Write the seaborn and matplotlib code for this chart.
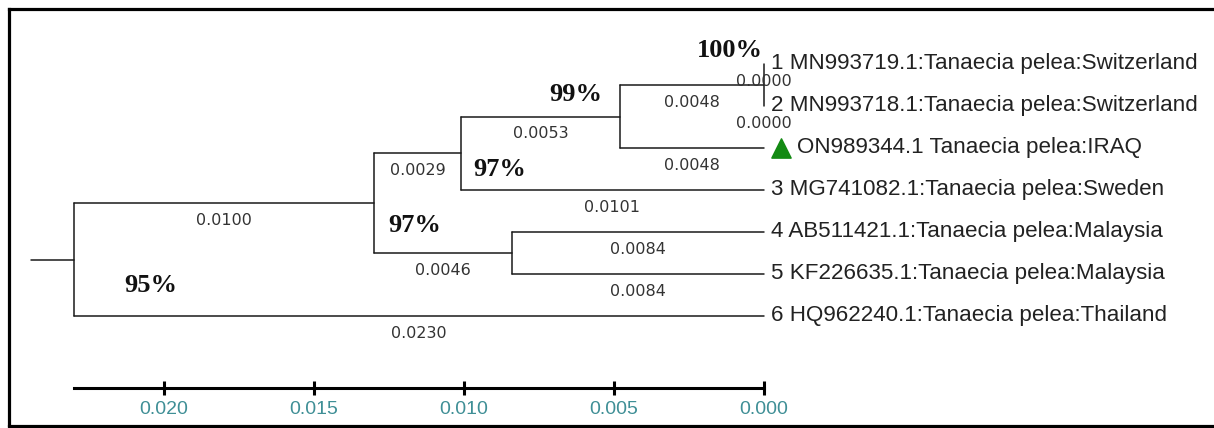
import numpy as np
import pandas as pd
import matplotlib
matplotlib.use("Agg")
import matplotlib.pyplot as plt
import seaborn as sns


# ── 1. Tree data ─────────────────────────────────────────────────────────────

branch_parent = ["R", "A", "B", "D", "E", "E", "D", "B", "A", "C", "C", "R"]
branch_child = ["A", "B", "D", "E", "L1", "L2", "LIQ", "L3", "C", "L4", "L5", "L6"]
branch_length = [0.0100, 0.0029, 0.0053, 0.0048, 0.0000, 0.0000,
                 0.0048, 0.0101, 0.0046, 0.0084, 0.0084, 0.0230]

leaf_ids = ["L1", "L2", "LIQ", "L3", "L4", "L5", "L6"]
leaf_labels = [
    "1 MN993719.1:Tanaecia pelea:Switzerland",
    "2 MN993718.1:Tanaecia pelea:Switzerland",
    "ON989344.1 Tanaecia pelea:IRAQ",
    "3 MG741082.1:Tanaecia pelea:Sweden",
    "4 AB511421.1:Tanaecia pelea:Malaysia",
    "5 KF226635.1:Tanaecia pelea:Malaysia",
    "6 HQ962240.1:Tanaecia pelea:Thailand",
]
marked_leaf = "LIQ"

bootstrap_nodes = ["E", "D", "B", "A", "R"]
bootstrap_values = [100, 99, 97, 97, 95]

scale_ticks = [0.020, 0.015, 0.010, 0.005, 0.000]

# label offsets in points (layout only)
boot_offsets = [(-1, 25), (-13, 16), (9, -12), (10, -16), (36, -19)]
boot_align = ["right", "right", "left", "left", "left"]


# ── 2. Layout of the tree ────────────────────────────────────────────────────

depth = {"R": 0.0}
children = {}
for p, c, L in zip(branch_parent, branch_child, branch_length):
    depth[c] = depth[p] + L
    children.setdefault(p, []).append(c)
total = max(depth.values())
xpos = {n: total - d for n, d in depth.items()}

ypos = {leaf: i for i, leaf in enumerate(leaf_ids)}
for p in reversed(list(dict.fromkeys(branch_parent))):
    ys = [ypos[c] for c in children[p]]
    ypos[p] = (min(ys) + max(ys)) / 2

rows = []
seg = 0
for p, c in zip(branch_parent, branch_child):
    rows += [(xpos[p], ypos[c], seg), (xpos[c], ypos[c], seg)]
    seg += 1
for p, kids in children.items():
    ys = [ypos[c] for c in kids]
    rows += [(xpos[p], min(ys), seg), (xpos[p], max(ys), seg)]
    seg += 1
root_stub = 0.00145
rows += [(xpos["R"] + root_stub, ypos["R"], seg), (xpos["R"], ypos["R"], seg)]
segs = pd.DataFrame(rows, columns=["x", "y", "seg"])


# ── 3. Plot ──────────────────────────────────────────────────────────────────

sns.set_theme(style="white")
plt.rcParams["font.family"] = ["DejaVu Sans"]

W, H = 1214, 428
fig = plt.figure(figsize=(W / 100, H / 100), dpi=100)
left_px, top_px, bot_px = 8.5, 9.0, 425.5
ax = fig.add_axes([left_px / W, (H - bot_px) / H, (W - left_px) / W, (bot_px - top_px) / H])

px_per_unit = 30000.0
tip_px = 764.0
ax.set_xlim((tip_px - left_px) / px_per_unit, (tip_px - W) / px_per_unit)
ax.set_ylim((bot_px - 64) / 42, (top_px - 64) / 42)

sns.lineplot(data=segs, x="x", y="y", units="seg", estimator=None, sort=False,
             color="#1a1a1a", linewidth=1.1, ax=ax, legend=False)

# branch lengths
for p, c, L in zip(branch_parent, branch_child, branch_length):
    xm = (xpos[p] + xpos[c]) / 2
    ax.annotate(f"{L:.4f}", (xm, ypos[c]), xytext=(0, -12.5), textcoords="offset points",
                ha="center", va="center", fontsize=11.5, color="#333333",
                family=["DejaVu Sans"])

# leaf labels
for leaf, lab in zip(leaf_ids, leaf_labels):
    dx = 5
    if leaf == marked_leaf:
        dx = 24
    ax.annotate(lab, (xpos[leaf], ypos[leaf]), xytext=(dx, 0), textcoords="offset points",
                ha="left", va="center", fontsize=16.1, color="#222222",
                family=["Liberation Sans", "DejaVu Sans"])

mk = pd.DataFrame({"x": [xpos[marked_leaf] - 0.00057], "y": [ypos[marked_leaf]]})
sns.scatterplot(data=mk, x="x", y="y", marker="^", s=190, color="#138a13",
                edgecolor="#138a13", ax=ax, legend=False)

# bootstrap values
for n, v, off, ha in zip(bootstrap_nodes, bootstrap_values, boot_offsets, boot_align):
    ax.annotate(f"{v}%", (xpos[n], ypos[n]), xytext=off, textcoords="offset points",
                ha=ha, va="center", fontsize=19, fontweight="bold", color="#111111",
                family=["Liberation Serif", "DejaVu Serif"])

ax.set_xticks([])
ax.set_yticks([])
ax.set_xlabel("")
ax.set_ylabel("")
for side in ["top", "left", "bottom"]:
    ax.spines[side].set_visible(True)
    ax.spines[side].set_color("black")
    ax.spines[side].set_linewidth(2.3)
ax.spines["right"].set_visible(False)

# scale axis
scale_y = 388.0
ax2 = fig.add_axes([left_px / W, (H - scale_y) / H, (W - left_px) / W, 0.0005])
ax2.set_xlim(ax.get_xlim())
ax2.patch.set_visible(False)
for side in ["top", "left", "right"]:
    ax2.spines[side].set_visible(False)
ax2.spines["bottom"].set_visible(True)
ax2.spines["bottom"].set_color("black")
ax2.spines["bottom"].set_linewidth(2.2)
ax2.spines["bottom"].set_bounds(total, 0.0)
ax2.set_yticks([])
ax2.set_xticks(scale_ticks)
ax2.set_xticklabels([f"{t:.3f}" for t in scale_ticks],
                    family=["Liberation Sans", "DejaVu Sans"])
ax2.tick_params(axis="x", direction="inout", length=9.5, width=2.2, color="black",
                labelcolor="#3f8f96", labelsize=14, pad=4.5, bottom=True)

fig.savefig("out.png", dpi=100)
plt.close(fig)
